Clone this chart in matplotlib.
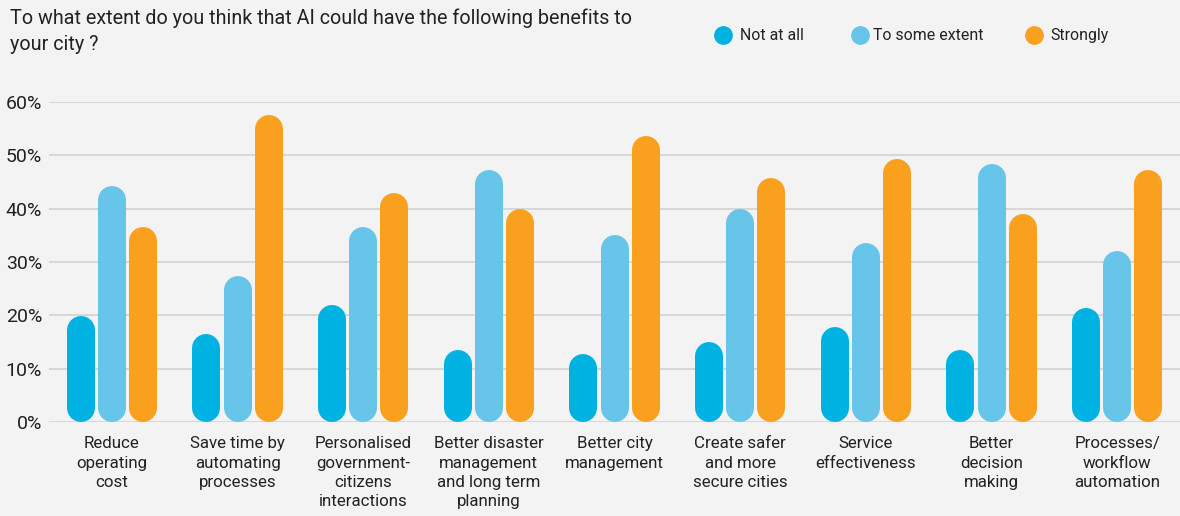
import matplotlib
matplotlib.use("Agg")
import matplotlib.pyplot as plt
import numpy as np

plt.rcParams['font.family'] = ['Roboto', 'DejaVu Sans']

categories = [
    "Reduce\noperating\ncost",
    "Save time by\nautomating\nprocesses",
    "Personalised\ngovernment-\ncitizens\ninteractions",
    "Better disaster\nmanagement\nand long term\nplanning",
    "Better city\nmanagement",
    "Create safer\nand more\nsecure cities",
    "Service\neffectiveness",
    "Better\ndecision\nmaking",
    "Processes/\nworkflow\nautomation",
]
series_names = ["Not at all", "To some extent", "Strongly"]
not_at_all = [19.9, 16.6, 21.9, 13.6, 12.7, 15.0, 17.8, 13.6, 21.4]
some_extent = [44.3, 27.3, 36.6, 47.2, 35.1, 39.9, 33.6, 48.3, 32.1]
strongly = [36.6, 57.6, 42.9, 39.9, 53.5, 45.7, 49.2, 39.0, 47.3]
yticks = [0, 10, 20, 30, 40, 50, 60]
ytick_labels = ["0%", "10%", "20%", "30%", "40%", "50%", "60%"]

colors = ["#00B2E1", "#66C5E8", "#F9A01F"]
bg = "#F3F3F3"
text_color = "#222222"

W, H, DPI = 1180, 516, 100
fig = plt.figure(figsize=(W / DPI, H / DPI), dpi=DPI, facecolor=bg)
ax = fig.add_axes([49 / W, 93.7 / H, 1131 / W, 320.6 / H], facecolor=bg)
ax.set_xlim(-0.5, len(categories) - 0.5)
ax.set_ylim(0, 60)

for s in ax.spines.values():
    s.set_visible(False)
ax.set_yticks(yticks)
ax.set_yticklabels(ytick_labels, fontsize=14, color=text_color)
ax.tick_params(axis='y', length=0, pad=5)
ax.yaxis.grid(True, color="#D2D2D2", linewidth=1.2)
ax.set_axisbelow(True)

x = np.arange(len(categories))
ax.set_xticks(x)
ax.set_xticklabels(categories, fontsize=12.2, color=text_color, linespacing=1.36, va='top')
ax.tick_params(axis='x', length=0, pad=10)

# Pill-shaped bars: thick lines with round caps, radius converted to data units
bar_px = 28
px_per_unit = 320.6 / 60.0
r = (bar_px / 2) / px_per_unit
offset = 0.249
lw_pt = bar_px * 72 / DPI
for k, vals in enumerate([not_at_all, some_extent, strongly]):
    for i, v in enumerate(vals):
        xi = x[i] + (k - 1) * offset
        ax.plot([xi, xi], [r, v - r], color=colors[k], linewidth=lw_pt,
                solid_capstyle='round', zorder=3)

fig.text(10 / W, 1 - 8 / H,
         "To what extent do you think that AI could have the following benefits to\nyour city ?",
         fontsize=14.2, color=text_color, va='top', ha='left', linespacing=1.5)

# Legend: circle markers followed by labels
legend_marker_x = [723, 860, 1034]
legend_text_x = [740, 873, 1050]
legend_y = 1 - 35 / H
legend_baseline = 1 - 40 / H
for name, c, mx, tx in zip(series_names, colors, legend_marker_x, legend_text_x):
    fig.lines.append(plt.Line2D([mx / W], [legend_y], marker='o', markersize=12.5,
                                markerfacecolor=c, markeredgecolor=c, linestyle='',
                                transform=fig.transFigure, figure=fig))
    fig.text(tx / W, legend_baseline, name, fontsize=11.4, color=text_color,
             va='baseline', ha='left')

fig.savefig("out.png", dpi=DPI, facecolor=bg)
